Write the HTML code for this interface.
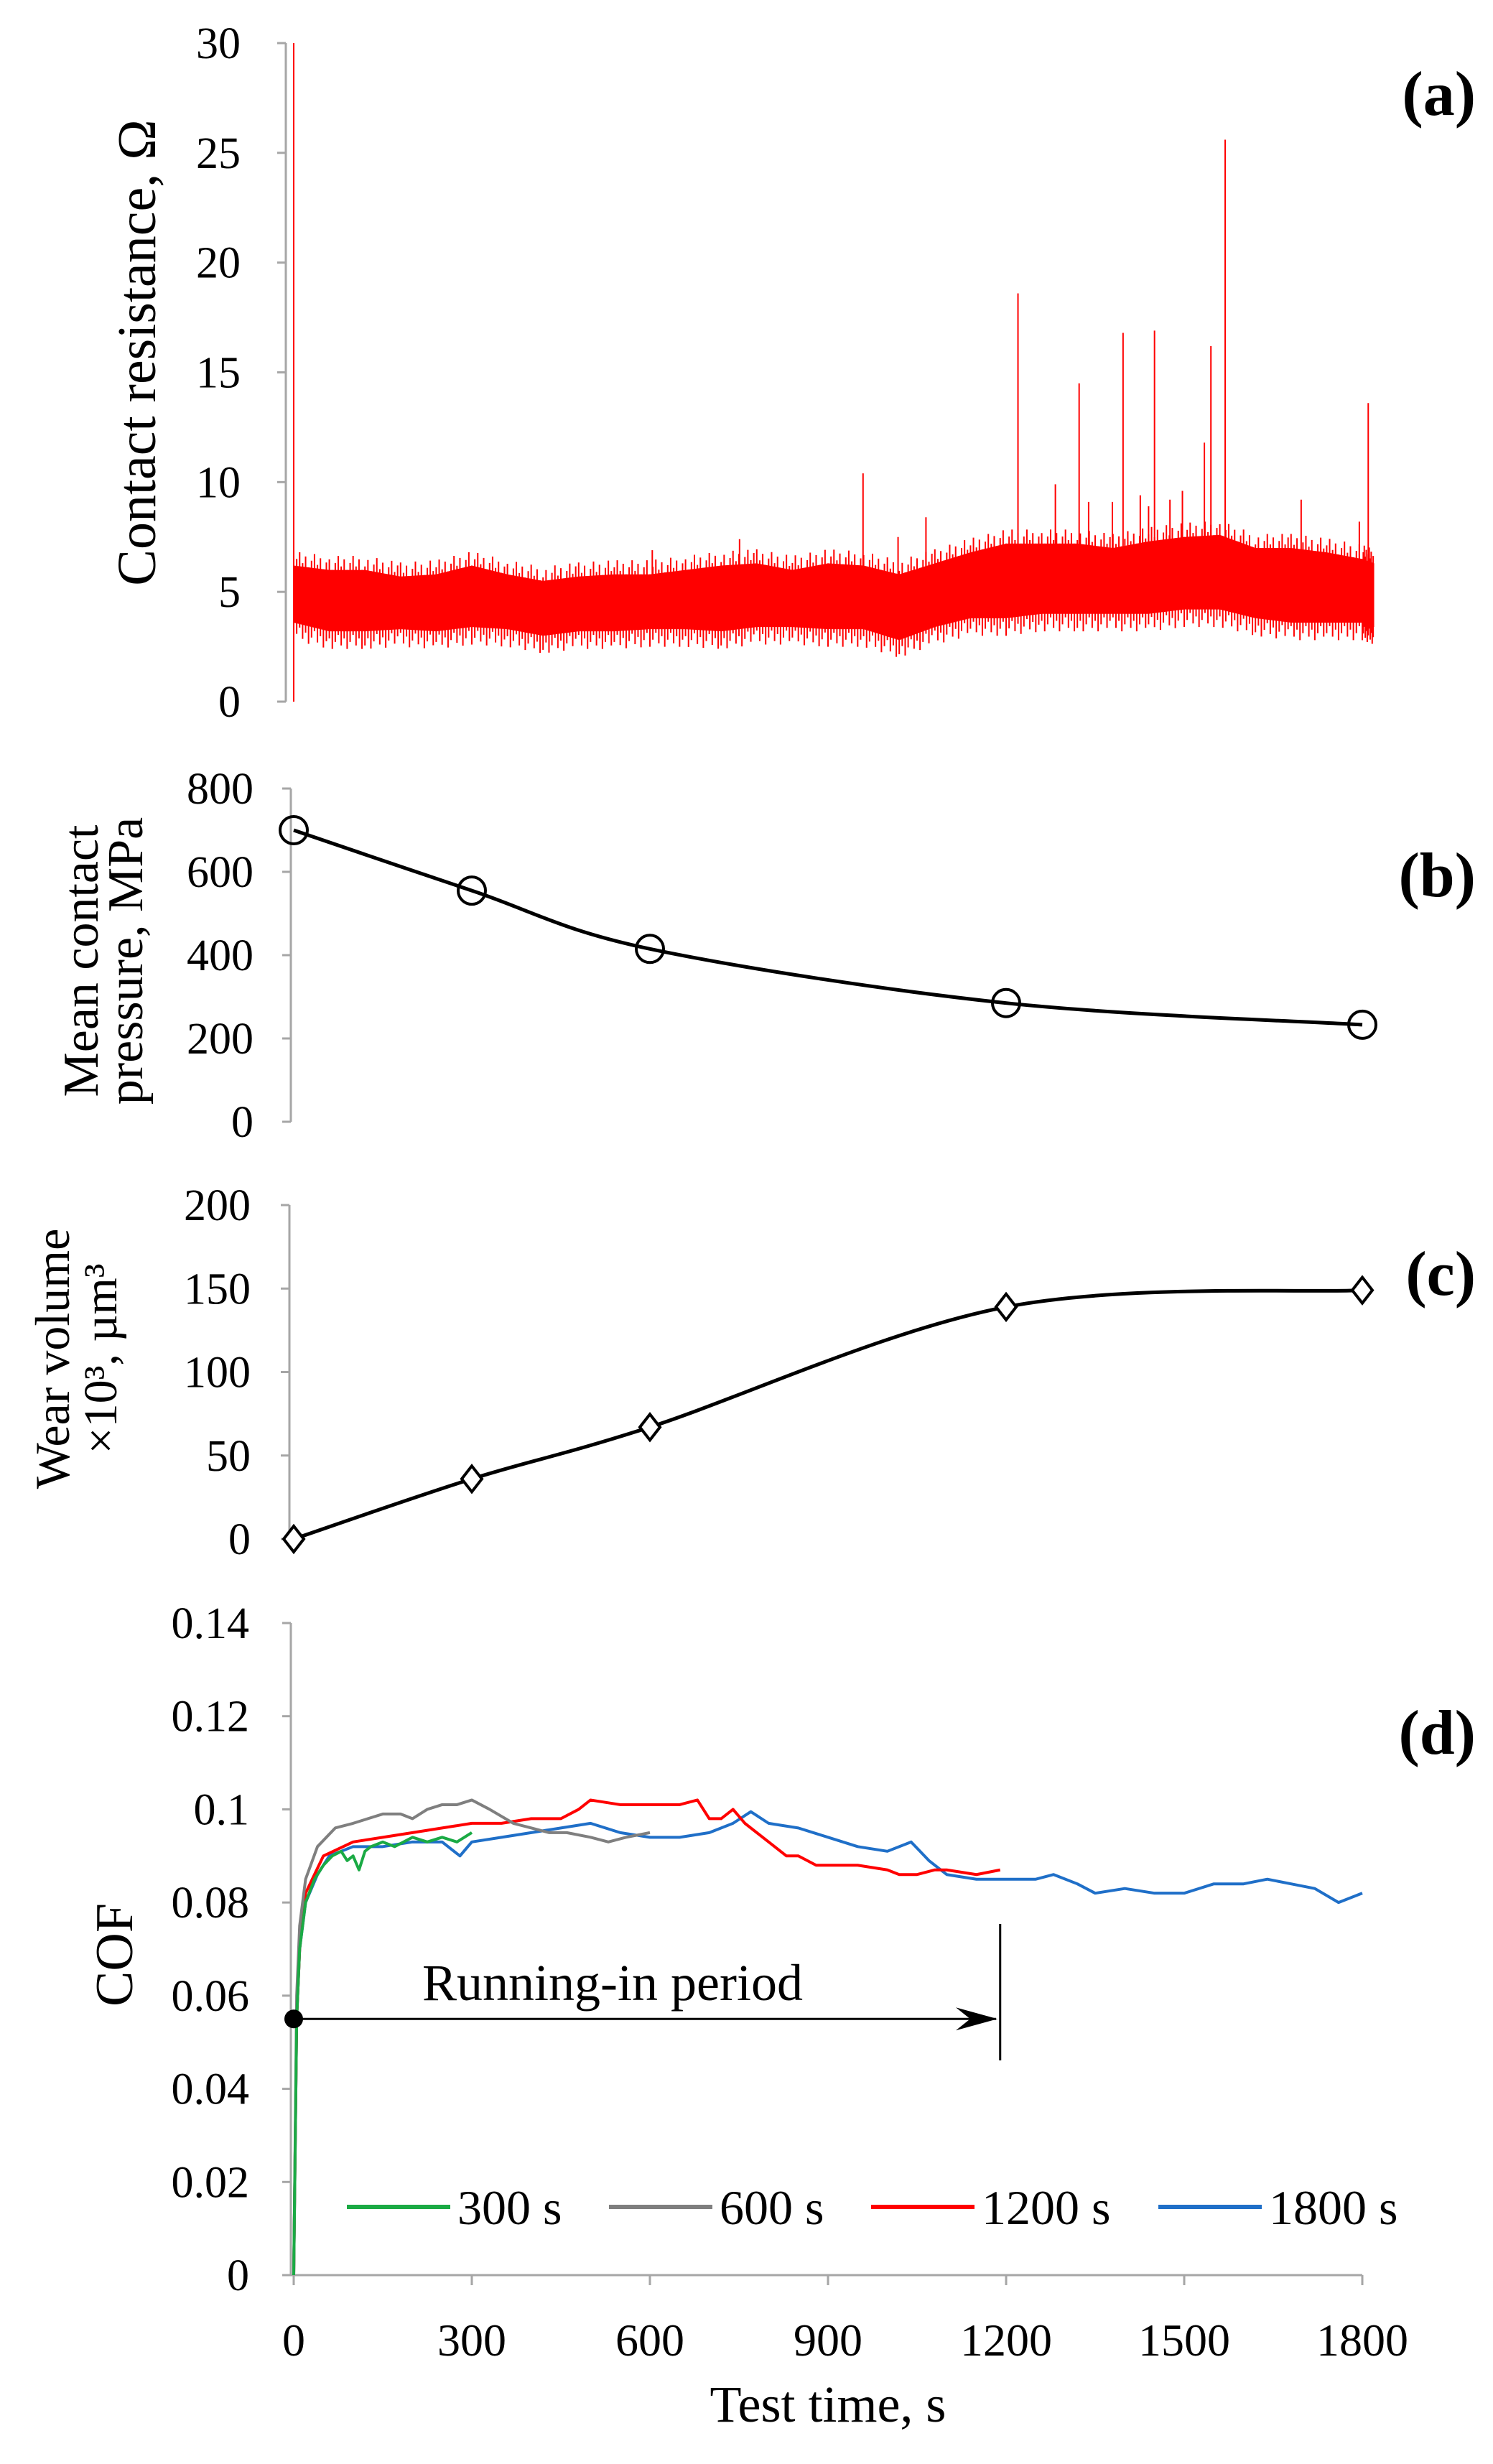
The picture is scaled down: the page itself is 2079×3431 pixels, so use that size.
<!DOCTYPE html>
<html><head><meta charset="utf-8"><style>
html,body{margin:0;padding:0;background:#fff;}
svg{display:block;font-family:"Liberation Serif",serif;}
</style></head><body>
<svg id="fig" width="2079" height="3431" viewBox="0 0 2079 3431" xmlns="http://www.w3.org/2000/svg">
<rect width="2079" height="3431" fill="#fff"/>
</svg>
<script>
// ---- Panel (a) data ----
const resT    = [0,60,120,180,240,300,360,420,480,540,600,660,720,780,840,900,960,1020,1080,1140,1200,1260,1320,1380,1440,1500,1560,1620,1680,1740,1800,1820];
const resHigh = [6.2,6.0,6.0,5.7,5.8,6.2,5.8,5.5,5.7,5.8,5.8,6.0,6.2,6.3,6.0,6.3,6.2,5.8,6.3,6.8,7.2,7.2,7.2,7.0,7.3,7.5,7.6,7.0,7.0,6.8,6.5,6.3];
const resLow  = [3.6,3.2,3.2,3.3,3.2,3.4,3.3,3.0,3.2,3.2,3.3,3.3,3.2,3.4,3.4,3.3,3.3,2.8,3.4,3.8,3.8,4.0,4.0,4.0,4.0,4.2,4.2,3.8,3.6,3.6,3.6,3.4];
const spikeT  = [0,604,751,959,1018,1065,1220,1283,1323,1339,1379,1397,1426,1440,1450,1476,1497,1534,1545,1569,1697,1795,1810];
const spikeV  = [30,6.9,7.4,10.4,7.5,8.4,18.6,9.9,14.5,9.1,9.1,16.8,9.4,8.9,16.9,9.2,9.6,11.8,16.2,25.6,9.2,8.2,13.6];
const resTicks = [0,5,10,15,20,25,30];
// ---- Panel (b) data ----
const presT = [0,300,600,1200,1800];
const presV = [700,555,415,285,233];
const presTicks = [0,200,400,600,800];
// ---- Panel (c) data ----
const wearT = [0,300,600,1200,1800];
const wearV = [0,36,67,139,149];
const wearTicks = [0,50,100,150,200];
// ---- Panel (d) data ----
const cofTicks = [0,0.02,0.04,0.06,0.08,0.1,0.12,0.14];
const cofTickLabels = ["0","0.02","0.04","0.06","0.08","0.1","0.12","0.14"];
const timeTicks = [0,300,600,900,1200,1500,1800];
const t300 = [0,5,10,20,35,50,65,80,90,100,110,120,130,150,170,200,225,250,275,300];
const v300 = [0,0.055,0.07,0.08,0.085,0.088,0.09,0.091,0.089,0.09,0.087,0.091,0.092,0.093,0.092,0.094,0.093,0.094,0.093,0.095];
const t600 = [0,5,10,20,40,70,100,125,150,180,200,225,250,275,300,330,370,400,430,460,500,530,560,600];
const v600 = [0,0.06,0.075,0.085,0.092,0.096,0.097,0.098,0.099,0.099,0.098,0.1,0.101,0.101,0.102,0.1,0.097,0.096,0.095,0.095,0.094,0.093,0.094,0.095];
const t1200 = [0,5,10,20,50,100,150,200,250,300,350,400,450,480,500,550,600,650,680,700,720,740,760,800,830,850,880,900,950,1000,1020,1050,1080,1100,1150,1190];
const v1200 = [0,0.055,0.07,0.082,0.09,0.093,0.094,0.095,0.096,0.097,0.097,0.098,0.098,0.1,0.102,0.101,0.101,0.101,0.102,0.098,0.098,0.1,0.097,0.093,0.09,0.09,0.088,0.088,0.088,0.087,0.086,0.086,0.087,0.087,0.086,0.087];
const t1800 = [0,5,10,20,40,60,100,150,200,250,280,300,350,400,450,500,550,600,650,700,740,770,800,850,900,950,1000,1040,1070,1100,1150,1200,1250,1280,1320,1350,1400,1450,1500,1550,1600,1640,1680,1720,1760,1800];
const v1800 = [0,0.055,0.07,0.08,0.086,0.09,0.092,0.092,0.093,0.093,0.09,0.093,0.094,0.095,0.096,0.097,0.095,0.094,0.094,0.095,0.097,0.0995,0.097,0.096,0.094,0.092,0.091,0.093,0.089,0.086,0.085,0.085,0.085,0.086,0.084,0.082,0.083,0.082,0.082,0.084,0.084,0.085,0.084,0.083,0.08,0.082];
const legendLabels = ["300 s","600 s","1200 s","1800 s"];
const legendColors = ["#1aaa44","#7f7f7f","#ff0000","#1f6fc8"];

const NS="http://www.w3.org/2000/svg";
const svg=document.getElementById('fig');
function el(tag,attrs,parent){const e=document.createElementNS(NS,tag);for(const k in attrs)e.setAttribute(k,attrs[k]);(parent||svg).appendChild(e);return e;}
const X0=409,X1=1897;
function xs(t){return X0+(t/1800)*(X1-X0);}
function yScale(v0,v1,p0,p1){return v=>p0+(v-v0)/(v1-v0)*(p1-p0);}
const axisCol="#a6a6a6";
function yAxis(name,ys,ticks,labels,ax,labelRight,top,bot){
  const g=el('g',{});
  
  
  el('line',{x1:ax,y1:top,x2:ax,y2:bot,stroke:axisCol,'stroke-width':3},g);
  ticks.forEach((v,i)=>{
    const y=ys(v);
    el('line',{x1:ax-12,y1:y,x2:ax,y2:y,stroke:axisCol,'stroke-width':3},g);
    const t=el('text',{x:labelRight,y:y+21,'text-anchor':'end','font-size':62,fill:'#000'},g);
    
    
    t.textContent=labels?labels[i]:String(v);
  });
}
function smoothPath(pts){
  let d=`M${pts[0][0]},${pts[0][1]}`;
  for(let i=0;i<pts.length-1;i++){
    const p0=pts[i-1]||pts[i],p1=pts[i],p2=pts[i+1],p3=pts[i+2]||p2;
    const c1=[p1[0]+(p2[0]-p0[0])/6,p1[1]+(p2[1]-p0[1])/6];
    const c2=[p2[0]-(p3[0]-p1[0])/6,p2[1]-(p3[1]-p1[1])/6];
    d+=` C${c1[0]},${c1[1]} ${c2[0]},${c2[1]} ${p2[0]},${p2[1]}`;
  }
  return d;
}
function text(name,str,x,y,size,opts){
  const t=el('text',Object.assign({x:x,y:y,'font-size':size,fill:'#000'},opts||{}));
  
  
  t.textContent=str;return t;
}

// ===== Panel (a) =====
const ya=yScale(0,30,977,60);
yAxis('y-axis-resistance',ya,resTicks,null,398,335,60,977);
{
  let d='';
  resT.forEach((t,i)=>{d+=(i?'L':'M')+xs(t)+','+ya(resHigh[i]);});
  for(let i=resT.length-1;i>=0;i--)d+='L'+xs(resT[i])+','+ya(resLow[i]);
  const band=el('path',{d:d+'Z',fill:'#ff0000'});
  
  
  const g=el('g',{stroke:'#ff0000','stroke-width':2});
  
  
  for(let i=0;i<resT.length-1;i++){
    for(let k=0;k<12;k++){
      const f=k/12,t=resT[i]+(resT[i+1]-resT[i])*f;
      const hi=resHigh[i]+(resHigh[i+1]-resHigh[i])*f, lo=resLow[i]+(resLow[i+1]-resLow[i])*f;
      const a=((k*7+i*3)%5)/5*0.8;
      el('line',{x1:xs(t),y1:ya(hi+a),x2:xs(t),y2:ya(lo-(0.8-a))},g);
    }
  }
  spikeT.forEach((t,i)=>{
    const s=el('line',{x1:xs(t),y1:ya(spikeV[i]),x2:xs(t),y2:ya(i===0?0:5),stroke:'#ff0000','stroke-width':2});
    
    
  });
}
text('y-axis-title-resistance','Contact resistance, Ω',0,0,76,{transform:'translate(216,491) rotate(-90)','text-anchor':'middle'});
text('panel-label-a','(a)',2055,160,88,{'text-anchor':'end','font-weight':'bold'});

// ===== Panel (b) =====
const yb=yScale(0,800,1562,1098);
yAxis('y-axis-pressure',yb,presTicks,null,405,353,1098,1562);
{
  const pts=presT.map((t,i)=>[xs(t),yb(presV[i])]);
  const p=el('path',{d:smoothPath(pts),fill:'none',stroke:'#000','stroke-width':5});
  
  
  pts.forEach(q=>{const c=el('circle',{cx:q[0],cy:q[1],r:19,fill:'none',stroke:'#000','stroke-width':4});
    });
}
text('y-axis-title-pressure','Mean contact',0,0,70,{transform:'translate(136,1338) rotate(-90)','text-anchor':'middle'});
text('y-axis-title-pressure-2','pressure, MPa',0,0,70,{transform:'translate(198,1338) rotate(-90)','text-anchor':'middle'});
text('panel-label-b','(b)',2055,1248,88,{'text-anchor':'end','font-weight':'bold'});

// ===== Panel (c) =====
const yc=yScale(0,200,2143,1678);
yAxis('y-axis-wear',yc,wearTicks,null,403,349,1678,2143);
{
  const pts=wearT.map((t,i)=>[xs(t),yc(wearV[i])]);
  const p=el('path',{d:smoothPath(pts),fill:'none',stroke:'#000','stroke-width':5});
  
  
  pts.forEach(q=>{const m=el('path',{d:`M${q[0]},${q[1]-18} L${q[0]+14},${q[1]} L${q[0]},${q[1]+18} L${q[0]-14},${q[1]} Z`,fill:'#fff',stroke:'#000','stroke-width':4});
    });
}
text('y-axis-title-wear','Wear  volume',0,0,68,{transform:'translate(96,1892) rotate(-90)','text-anchor':'middle'});
text('y-axis-title-wear-2','×10³, µm³',0,0,66,{transform:'translate(162,1892) rotate(-90)','text-anchor':'middle'});
text('panel-label-c','(c)',2055,1803,88,{'text-anchor':'end','font-weight':'bold'});

// ===== Panel (d) =====
const yd=yScale(0,0.14,3168,2260);
yAxis('y-axis-cof',yd,cofTicks,cofTickLabels,405,347,2260,3168);
{
  const g=el('g',{});
  
  
  el('line',{x1:405,y1:3168,x2:X1,y2:3168,stroke:axisCol,'stroke-width':3},g);
  timeTicks.forEach(t=>{
    el('line',{x1:xs(t),y1:3168,x2:xs(t),y2:3182,stroke:axisCol,'stroke-width':3},g);
    const l=el('text',{x:xs(t),y:3280,'text-anchor':'middle','font-size':64},g);
    
    
    l.textContent=String(t);
  });
}
text('x-axis-title','Test time, s',1153,3372,72,{'text-anchor':'middle'});
text('y-axis-title-cof','COF',0,0,74,{transform:'translate(184,2722) rotate(-90)','text-anchor':'middle'});
text('panel-label-d','(d)',2055,2442,88,{'text-anchor':'end','font-weight':'bold'});
const series=[[t1800,v1800,3],[t1200,v1200,2],[t600,v600,1],[t300,v300,0]];
series.forEach(s=>{
  const pts=s[0].map((t,i)=>[xs(t),yd(s[1][i])]);
  const p=el('polyline',{points:pts.map(q=>q.join(',')).join(' '),fill:'none',stroke:legendColors[s[2]],'stroke-width':4,'stroke-linejoin':'round'});
  
  
});
{
  const g=el('g',{});
  
  
  const ay=yd(0.055);
  el('line',{x1:xs(0),y1:ay,x2:xs(1200)-14,y2:ay,stroke:'#000','stroke-width':3},g);
  el('path',{d:`M${xs(1200)-12},${ay} L${xs(1200)-70},${ay-16} L${xs(1200)-50},${ay} L${xs(1200)-70},${ay+16} Z`,fill:'#000'},g);
  el('circle',{cx:xs(0),cy:ay,r:13,fill:'#000'},g);
  el('line',{x1:xs(1190),y1:2679,x2:xs(1190),y2:2869,stroke:'#000','stroke-width':3},g);
}
text('running-in-label','Running-in period',853,2785,72,{'text-anchor':'middle'});
{
  const lx=[483,848,1213,1613];
  legendLabels.forEach((lab,i)=>{
    const g=el('g',{});
    
    
    el('line',{x1:lx[i],y1:3073,x2:lx[i]+144,y2:3073,stroke:legendColors[i],'stroke-width':6},g);
    const t=el('text',{x:lx[i]+154,y:3097,'font-size':68},g);
    t.textContent=lab;
  });
}
</script>
</body></html>
